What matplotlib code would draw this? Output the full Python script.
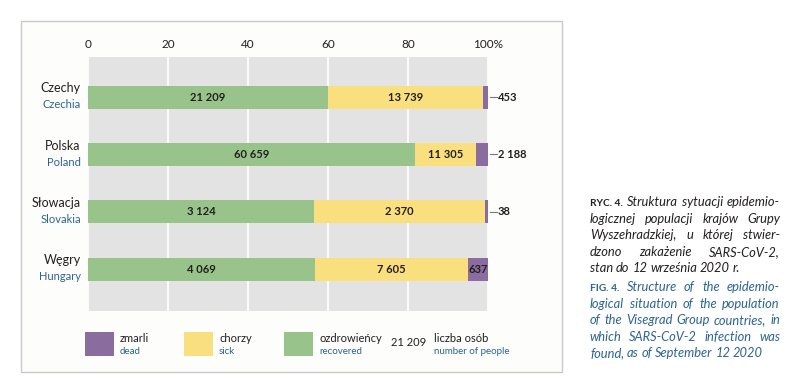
import matplotlib
matplotlib.use('Agg')
import matplotlib.pyplot as plt
from matplotlib.patches import Rectangle
import numpy as np

# data
countries_pl = ['Czechy', 'Polska', 'Słowacja', 'Węgry']
countries_en = ['Czechia', 'Poland', 'Slovakia', 'Hungary']
recovered = ['21 209', '60 659', '3 124', '4 069']
sick = ['13 739', '11 305', '2 370', '7 605']
dead = ['453', '2 188', '38', '637']
# shares (%) as drawn in the figure
recovered_pct = [59.9, 81.8, 56.5, 56.7]
sick_pct = [38.8, 15.2, 42.8, 38.2]
dead_pct = [1.3, 3.0, 0.7, 5.1]
ticks = [0, 20, 40, 60, 80, 100]
tick_labels = ['0', '20', '40', '60', '80', '100%']

GREEN = '#98c48b'
YELLOW = '#f9df7e'
PURPLE = '#8a6c9f'
BLUE = '#2c6394'
DARK = '#231f20'
FONT = 'Lato'

plt.rcParams['font.family'] = [FONT, 'DejaVu Sans']

W, H = 800, 388
fig = plt.figure(figsize=(W / 100, H / 100), dpi=100)
fig.patch.set_facecolor('white')


def fx(px):
    return px / W


def fy(py):
    return 1 - py / H


# outer frame
fig.patches.append(Rectangle((fx(21), fy(372)), fx(562) - fx(21), fy(21) - fy(372),
                             transform=fig.transFigure, facecolor='#fdfdfb',
                             edgecolor='#c9c9c9', lw=1.0, zorder=-5))

ax = fig.add_axes([fx(88), fy(311), fx(488) - fx(88), fy(57) - fy(311)])
ax.set_zorder(2)
ax.set_facecolor('#e3e3e3')
y = np.arange(len(countries_pl))
h = 0.40

left_sick = np.array(recovered_pct)
left_dead = left_sick + np.array(sick_pct)
ax.barh(y, recovered_pct, height=h, color=GREEN, zorder=3)
ax.barh(y, sick_pct, left=left_sick, height=h, color=YELLOW, zorder=3)
ax.barh(y, dead_pct, left=left_dead, height=h, color=PURPLE, zorder=3)

for i in range(len(y)):
    ax.text(recovered_pct[i] / 2, y[i], recovered[i], ha='center', va='center',
            fontsize=8, fontweight='bold', color=DARK, zorder=4)
    ax.text(left_sick[i] + sick_pct[i] / 2, y[i], sick[i], ha='center', va='center',
            fontsize=8, fontweight='bold', color=DARK, zorder=4)
    if dead_pct[i] > 4:
        ax.text(left_dead[i] + dead_pct[i] / 2, y[i], dead[i], ha='center', va='center',
                fontsize=8, fontweight='bold', color=DARK, zorder=4)
    else:
        ax.plot([100.6, 102.2], [y[i], y[i]], color='#777777', lw=0.8,
                clip_on=False, zorder=4)
        ax.text(102.4, y[i], dead[i], ha='left', va='center', fontsize=8,
                fontweight='bold', color=DARK, clip_on=False)
    ax.text(-1.8, y[i] - 0.05, countries_pl[i], ha='right', va='bottom',
            fontsize=9, color=DARK)
    ax.text(-1.8, y[i] + 0.04, countries_en[i], ha='right', va='top',
            fontsize=8, color=BLUE)

ax.set_xlim(0, 100)
ax.set_ylim(3.73, -0.70)
ax.set_xticks(ticks)
ax.set_xticklabels(tick_labels)
ax.xaxis.tick_top()
ax.tick_params(axis='x', length=0, pad=5, labelsize=8.5, labelcolor=DARK)
ax.set_yticks([])
ax.grid(axis='x', color='white', lw=1.2, zorder=1)
ax.set_axisbelow(True)
for s in ax.spines.values():
    s.set_visible(False)

# legend
legend_items = [('zmarli', 'dead', PURPLE, 85),
                ('chorzy', 'sick', YELLOW, 184),
                ('ozdrowieńcy', 'recovered', GREEN, 284)]
for pl, en, col, x0 in legend_items:
    fig.patches.append(Rectangle((fx(x0), fy(356)), fx(29), fy(332) - fy(356),
                                 transform=fig.transFigure, facecolor=col,
                                 edgecolor='none', zorder=2))
    fig.text(fx(x0 + 35), fy(339), pl, ha='left', va='center', fontsize=8, color=DARK)
    fig.text(fx(x0 + 35), fy(351), en, ha='left', va='center', fontsize=7, color=BLUE)
fig.text(fx(426), fy(343), '21 209', ha='right', va='center', fontsize=8, color=DARK)
fig.text(fx(434), fy(339), 'liczba osób', ha='left', va='center', fontsize=8, color=DARK)
fig.text(fx(434), fy(351), 'number of people', ha='left', va='center', fontsize=7, color=BLUE)

# caption, justified
cap_pl = [
    [('RYC. 4.', 'b'), 'Struktura sytuacji epidemio-'],
    ['logicznej populacji krajów Grupy'],
    ['Wyszehradzkiej, u której stwier-'],
    ['dzono zakażenie SARS-CoV-2,'],
    ['stan do 12 września 2020 r.'],
]
cap_en = [
    [('FIG. 4.', 'b'), 'Structure of the epidemio-'],
    ['logical situation of the population'],
    ['of the Visegrad Group countries, in'],
    ['which SARS-CoV-2 infection was'],
    ['found, as of September 12 2020'],
]

renderer = fig.canvas.get_renderer()
CX0, CX1 = 590, 780
CAP_FS = 9.3


def make_word(word, bold, color):
    if bold:
        t = fig.text(0, 0, word, fontsize=CAP_FS - 2.0, fontweight='bold', color=color,
                     va='baseline', ha='left')
    else:
        t = fig.text(0, 0, word, fontsize=CAP_FS, style='italic', color=color,
                     va='baseline', ha='left')
    return t


def draw_caption(lines, y0, color):
    for li, line in enumerate(lines):
        words = []
        for part in line:
            if isinstance(part, tuple):
                words.append(make_word(part[0], True, color))
            else:
                for w in part.split():
                    words.append(make_word(w, False, color))
        widths = [t.get_window_extent(renderer).width for t in words]
        last = li == len(lines) - 1
        if last:
            gap = 2.8
        else:
            gap = (CX1 - CX0 - sum(widths)) / (len(words) - 1)
        x = CX0
        yy = y0 + li * 16.6
        for t, wd in zip(words, widths):
            t.set_position((fx(x), fy(yy)))
            x += wd + gap


draw_caption(cap_pl, 206, DARK)
draw_caption(cap_en, 291, BLUE)

fig.savefig('out.png', dpi=100, facecolor='white')
